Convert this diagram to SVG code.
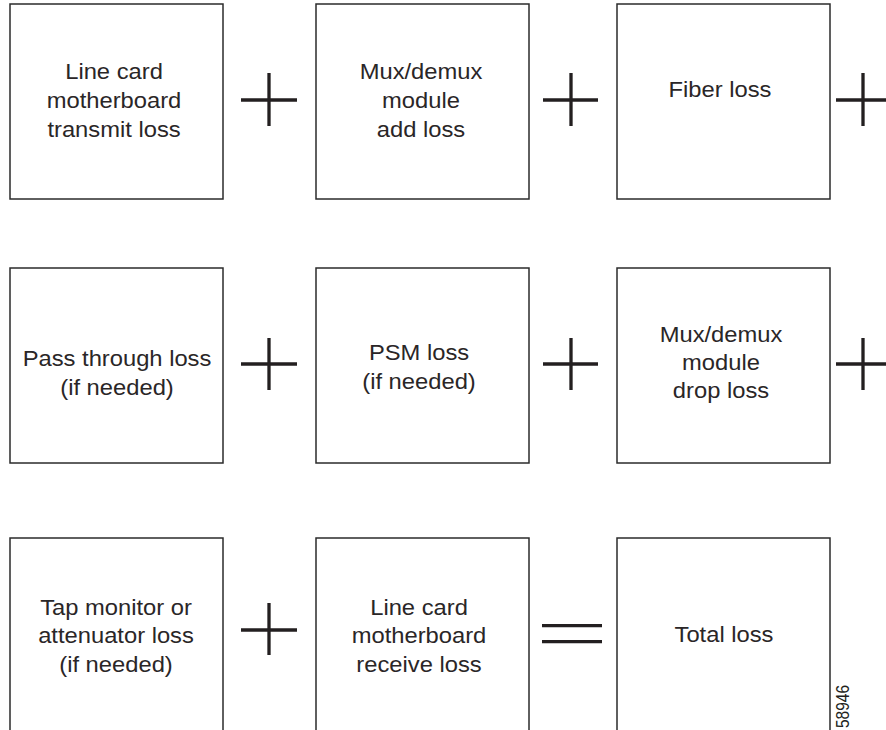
<svg xmlns="http://www.w3.org/2000/svg" width="886" height="730" viewBox="0 0 886 730">
  <style>
    .box { fill: #ffffff; stroke: #2b2b2b; stroke-width: 1.5; }
    .lbl { font-family: "Liberation Sans", Arial, Helvetica, sans-serif; font-size: 22px; fill: #2a2627; text-anchor: middle; }
    .op { stroke: #231f20; stroke-width: 3.3; fill: none; }
    .fig { font-family: "Liberation Sans", Arial, Helvetica, sans-serif; font-size: 18px; fill: #231f20; }
  </style>
  <rect width="886" height="730" fill="#ffffff"/>

  <!-- Row 1 -->
  <g id="tx-loss">
    <rect class="box" x="10" y="4" width="213" height="195"/>
    <g transform="translate(114 0) scale(1.08 1)">
      <text class="lbl" x="0" y="79">Line card</text>
      <text class="lbl" x="0" y="108">motherboard</text>
      <text class="lbl" x="0" y="137">transmit loss</text>
    </g>
  </g>
  <g id="mux-add-loss">
    <rect class="box" x="316" y="4" width="213" height="195"/>
    <g transform="translate(421 0) scale(1.08 1)">
      <text class="lbl" x="0" y="79">Mux/demux</text>
      <text class="lbl" x="0" y="108">module</text>
      <text class="lbl" x="0" y="137">add loss</text>
    </g>
  </g>
  <g id="fiber-loss">
    <rect class="box" x="617" y="4" width="213" height="195"/>
    <g transform="translate(720 0) scale(1.08 1)">
      <text class="lbl" x="0" y="97">Fiber loss</text>
    </g>
  </g>

  <!-- Row 2 -->
  <g id="pass-through-loss">
    <rect class="box" x="10" y="268" width="213" height="195"/>
    <g transform="translate(117 0) scale(1.08 1)">
      <text class="lbl" x="0" y="366">Pass through loss</text>
      <text class="lbl" x="0" y="395">(if needed)</text>
    </g>
  </g>
  <g id="psm-loss">
    <rect class="box" x="316" y="268" width="213" height="195"/>
    <g transform="translate(419 0) scale(1.08 1)">
      <text class="lbl" x="0" y="360">PSM loss</text>
      <text class="lbl" x="0" y="389">(if needed)</text>
    </g>
  </g>
  <g id="mux-drop-loss">
    <rect class="box" x="617" y="268" width="213" height="195"/>
    <g transform="translate(721 0) scale(1.08 1)">
      <text class="lbl" x="0" y="342">Mux/demux</text>
      <text class="lbl" x="0" y="370">module</text>
      <text class="lbl" x="0" y="398">drop loss</text>
    </g>
  </g>

  <!-- Row 3 -->
  <g id="tap-loss">
    <rect class="box" x="10" y="538" width="213" height="200"/>
    <g transform="translate(116 0) scale(1.08 1)">
      <text class="lbl" x="0" y="615">Tap monitor or</text>
      <text class="lbl" x="0" y="643.5">attenuator loss</text>
      <text class="lbl" x="0" y="672">(if needed)</text>
    </g>
  </g>
  <g id="rx-loss">
    <rect class="box" x="316" y="538" width="213" height="200"/>
    <g transform="translate(419 0) scale(1.08 1)">
      <text class="lbl" x="0" y="615">Line card</text>
      <text class="lbl" x="0" y="643.5">motherboard</text>
      <text class="lbl" x="0" y="672">receive loss</text>
    </g>
  </g>
  <g id="total-loss">
    <rect class="box" x="617" y="538" width="213" height="200"/>
    <g transform="translate(724 0) scale(1.08 1)">
      <text class="lbl" x="0" y="642">Total loss</text>
    </g>
  </g>

  <!-- Operators between the terms -->
  <g id="operators">
    <path class="op" d="M241 100H297M269 73V126"/>
    <path class="op" d="M543 100H598M571 73V126"/>
    <path class="op" d="M836 100H886M863 73V126"/>

    <path class="op" d="M241 364H297M269 338V390"/>
    <path class="op" d="M543 364H598M571 338V390"/>
    <path class="op" d="M836 364H886M863 338V390"/>

    <path class="op" d="M241 630H297M269 603V655"/>
    <path class="op" d="M542 625.7H602M542 641.7H602" stroke-width="3.8"/>
  </g>

  <text class="fig" transform="translate(849 728) rotate(-90)" textLength="43" lengthAdjust="spacingAndGlyphs">58946</text>
</svg>
